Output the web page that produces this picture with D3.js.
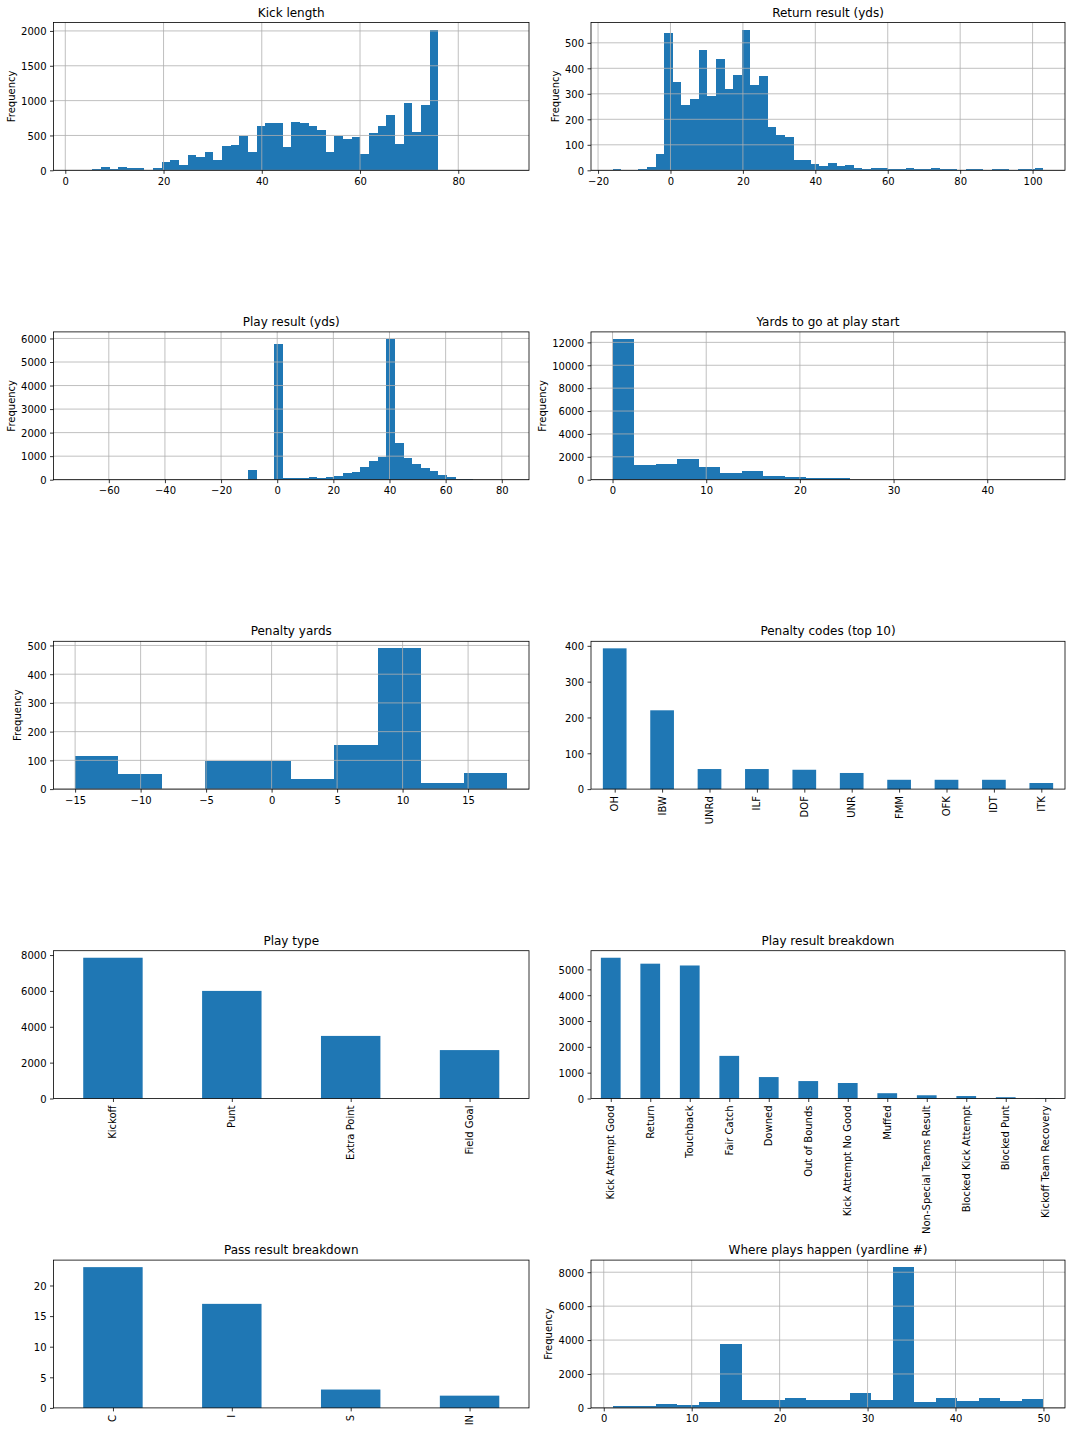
<!DOCTYPE html>
<html><head><meta charset="utf-8">
<script src="https://cdn.jsdelivr.net/npm/d3@7"></script>
<style>
body{margin:0;background:#fff;}
svg text{font-family:"DejaVu Sans",sans-serif;fill:#000;}
</style></head><body>
<svg id="fig" width="1072" height="1432"></svg>
<script>
// ---------------- DATA ----------------
// Histograms: [min, max] of data range (50/20/10 equal bins) and counts per bin
const kickLengthRange = [2, 90];
const kickLengthCounts = [1,0,15,45,20,45,35,35,0,30,120,145,75,215,190,260,145,345,360,490,260,630,675,675,330,690,675,630,575,260,490,450,475,230,530,630,790,375,960,545,930,2020,0,0,0,0,0,0,0,1];
const kickLengthXTicks = [0,20,40,60,80];
const kickLengthYTicks = [0,500,1000,1500,2000];

const returnResultRange = [-16, 103];
const returnResultCounts = [4,0,0,4,12,62,540,345,255,278,470,293,435,320,375,552,333,368,168,137,130,40,40,24,17,28,17,20,9,5,8,8,4,4,8,4,4,8,4,4,1,4,4,1,4,4,1,4,4,8];
const returnResultXTicks = [-20,0,20,40,60,80,100];
const returnResultYTicks = [0,100,200,300,400,500];

const playResultYdsRange = [-72, 82];
const playResultYdsCounts = [1,0,0,0,1,0,0,0,1,0,0,1,0,1,1,2,2,3,3,5,400,5,8,5750,60,60,60,100,60,100,150,270,310,540,790,970,5980,1550,920,660,490,360,190,110,50,10,4,2,1,1];
const playResultYdsXTicks = [-60,-40,-20,0,20,40,60,80];
const playResultYdsYTicks = [0,1000,2000,3000,4000,5000,6000];

const yardsToGoRange = [0, 46];
const yardsToGoCounts = [12300,1270,1340,1780,1100,550,730,320,230,140,110,15,5,3,2,1,0,1,0,1];
const yardsToGoXTicks = [0,10,20,30,40];
const yardsToGoYTicks = [0,2000,4000,6000,8000,10000,12000];

const penaltyYardsRange = [-15, 18];
const penaltyYardsCounts = [115,53,0,98,98,35,153,490,21,55];
const penaltyYardsXTicks = [-15,-10,-5,0,5,10,15];
const penaltyYardsYTicks = [0,100,200,300,400,500];

const yardlineRange = [1, 50];
const yardlineCounts = [140,140,250,200,375,3760,440,490,610,490,490,850,440,8300,320,610,380,610,380,550];
const yardlineXTicks = [0,10,20,30,40,50];
const yardlineYTicks = [0,2000,4000,6000,8000];

// Bar charts
const penaltyCodes = ['OH','IBW','UNRd','ILF','DOF','UNR','FMM','OFK','IDT','ITK'];
const penaltyCodeCounts = [393,220,56,56,54,45,26,26,26,17];
const penaltyCodeYTicks = [0,100,200,300,400];

const playTypes = ['Kickoff','Punt','Extra Point','Field Goal'];
const playTypeCounts = [7850,6000,3490,2700];
const playTypeYTicks = [0,2000,4000,6000,8000];

const playResults = ['Kick Attempt Good','Return','Touchback','Fair Catch','Downed','Out of Bounds','Kick Attempt No Good','Muffed','Non-Special Teams Result','Blocked Kick Attempt','Blocked Punt','Kickoff Team Recovery'];
const playResultCounts = [5450,5220,5150,1650,830,675,600,205,125,95,50,8];
const playResultYTicks = [0,1000,2000,3000,4000,5000];

const passResults = ['C','I','S','IN'];
const passResultCounts = [23,17,3,2];
const passResultYTicks = [0,5,10,15,20];

// ---------------- LAYOUT ----------------
const svg = d3.select('#fig');
const COLS = [[53.5, 529], [591, 1065]];
const ROW_TOP = 22.5, ROW_STEP = 309.4, H = 147.8;
const BLUE = '#1f77b4', GRID = '#b0b0b0';
const fmt = d3.format('d');

function box(row, col) {
  const [x0, x1] = COLS[col];
  const y0 = ROW_TOP + row * ROW_STEP;
  return {x0, x1, y0, y1: y0 + H};
}

function styleAxis(g) {
  g.select('.domain').remove();
  g.attr('font-family', null).attr('font-size', null);
  g.selectAll('line').attr('stroke', '#000').attr('stroke-width', 0.8);
  g.selectAll('text').attr('font-size', 10);
}

function yAxis(g, b, y, yTicks) {
  const ga = g.append('g').attr('transform', `translate(${b.x0},0)`)
    .call(d3.axisLeft(y).tickValues(yTicks).tickFormat(fmt).tickSize(3.5).tickPadding(3.5));
  styleAxis(ga);
  ga.selectAll('text').attr('dy', '0.38em');
  return ga;
}

function finish(g, b, title) {
  g.append('rect').attr('x', b.x0).attr('y', b.y0).attr('width', b.x1 - b.x0).attr('height', b.y1 - b.y0)
    .attr('fill', 'none').attr('stroke', '#000').attr('stroke-width', 0.8);
  g.append('text').attr('x', (b.x0 + b.x1) / 2).attr('y', b.y0 - 6)
    .attr('text-anchor', 'middle').attr('font-size', 12).text(title);
}

function histogram(row, col, title, range, counts, xTicks, yTicks) {
  const b = box(row, col);
  const [lo, hi] = range;
  const pad = 0.05 * (hi - lo);
  const x = d3.scaleLinear().domain([lo - pad, hi + pad]).range([b.x0, b.x1]);
  const y = d3.scaleLinear().domain([0, d3.max(counts) * 1.05]).range([b.y1, b.y0]);
  const w = (hi - lo) / counts.length;
  const g = svg.append('g');
  const bins = counts.map((c, i) => ({c, e0: lo + i * w, e1: lo + (i + 1) * w})).filter(d => d.c > 0);
  g.selectAll('rect.bar').data(bins).join('rect').attr('class', 'bar')
    .attr('x', d => x(d.e0)).attr('width', d => x(d.e1) - x(d.e0))
    .attr('y', d => y(d.c)).attr('height', d => y(0) - y(d.c))
    .attr('fill', BLUE).attr('shape-rendering', 'crispEdges');
  // grid (drawn above patches, like matplotlib axisbelow='line')
  g.selectAll('line.vg').data(xTicks).join('line').attr('class', 'vg')
    .attr('x1', d => x(d)).attr('x2', d => x(d)).attr('y1', b.y0).attr('y2', b.y1)
    .attr('stroke', GRID).attr('stroke-width', 0.8);
  g.selectAll('line.hg').data(yTicks).join('line').attr('class', 'hg')
    .attr('x1', b.x0).attr('x2', b.x1).attr('y1', d => y(d)).attr('y2', d => y(d))
    .attr('stroke', GRID).attr('stroke-width', 0.8);
  const gx = g.append('g').attr('transform', `translate(0,${b.y1})`)
    .call(d3.axisBottom(x).tickValues(xTicks).tickFormat(fmt).tickSize(3.5).tickPadding(3.5));
  styleAxis(gx);
  gx.selectAll('text').attr('y', 7).attr('dy', '0.76em');
  const gy = yAxis(g, b, y, yTicks);
  let minX = Infinity;
  gy.selectAll('text').each(function () { minX = Math.min(minX, this.getBBox().x); });
  const lx = b.x0 + minX - 4 - 2.3;
  g.append('text').attr('transform', `translate(${lx},${(b.y0 + b.y1) / 2}) rotate(-90)`)
    .attr('text-anchor', 'middle').attr('font-size', 10).text('Frequency');
  finish(g, b, title);
}

function barChart(row, col, title, cats, vals, yTicks) {
  const b = box(row, col);
  const n = cats.length;
  const x = d3.scaleLinear().domain([-0.5, n - 0.5]).range([b.x0, b.x1]);
  const y = d3.scaleLinear().domain([0, d3.max(vals) * 1.05]).range([b.y1, b.y0]);
  const g = svg.append('g');
  g.selectAll('rect.bar').data(vals.map((v, i) => ({v, i}))).join('rect').attr('class', 'bar')
    .attr('x', d => x(d.i - 0.25)).attr('width', d => x(d.i + 0.25) - x(d.i - 0.25))
    .attr('y', d => y(d.v)).attr('height', d => y(0) - y(d.v)).attr('fill', BLUE);
  const gx = g.append('g').attr('transform', `translate(0,${b.y1})`)
    .call(d3.axisBottom(x).tickValues(d3.range(n)).tickFormat(i => cats[i]).tickSize(3.5).tickPadding(3.5));
  styleAxis(gx);
  gx.selectAll('text').attr('transform', 'rotate(-90)').attr('text-anchor', 'end')
    .attr('x', -7).attr('y', 0).attr('dy', '0.3em');
  yAxis(g, b, y, yTicks);
  finish(g, b, title);
}

histogram(0, 0, 'Kick length', kickLengthRange, kickLengthCounts, kickLengthXTicks, kickLengthYTicks);
histogram(0, 1, 'Return result (yds)', returnResultRange, returnResultCounts, returnResultXTicks, returnResultYTicks);
histogram(1, 0, 'Play result (yds)', playResultYdsRange, playResultYdsCounts, playResultYdsXTicks, playResultYdsYTicks);
histogram(1, 1, 'Yards to go at play start', yardsToGoRange, yardsToGoCounts, yardsToGoXTicks, yardsToGoYTicks);
histogram(2, 0, 'Penalty yards', penaltyYardsRange, penaltyYardsCounts, penaltyYardsXTicks, penaltyYardsYTicks);
barChart(2, 1, 'Penalty codes (top 10)', penaltyCodes, penaltyCodeCounts, penaltyCodeYTicks);
barChart(3, 0, 'Play type', playTypes, playTypeCounts, playTypeYTicks);
barChart(3, 1, 'Play result breakdown', playResults, playResultCounts, playResultYTicks);
barChart(4, 0, 'Pass result breakdown', passResults, passResultCounts, passResultYTicks);
histogram(4, 1, 'Where plays happen (yardline #)', yardlineRange, yardlineCounts, yardlineXTicks, yardlineYTicks);
</script>
</body></html>
